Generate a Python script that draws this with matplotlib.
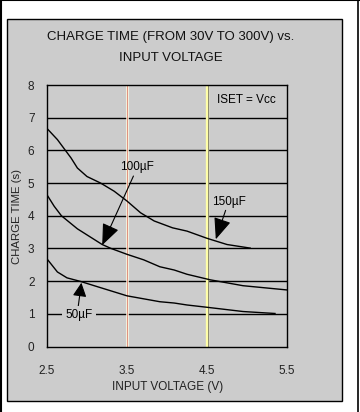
import matplotlib
matplotlib.use("Agg")
import matplotlib.pyplot as plt
from matplotlib.patches import Rectangle
from matplotlib.lines import Line2D

plt.rcParams["font.family"] = ["Liberation Sans", "DejaVu Sans"]

# Data
v_150 = [2.50, 2.63, 2.73, 2.80, 2.88, 3.00, 3.17, 3.34, 3.50, 3.67, 3.84,
         4.07, 4.25, 4.50, 4.75, 5.04]
t_150 = [6.67, 6.33, 6.00, 5.77, 5.46, 5.20, 5.00, 4.75, 4.45, 4.09, 3.84,
         3.63, 3.53, 3.31, 3.12, 3.01]

v_100 = [2.50, 2.59, 2.68, 2.88, 3.19, 3.30, 3.50, 3.71, 3.91, 4.09, 4.25,
         4.54, 4.95, 5.50]
t_100 = [4.64, 4.29, 4.00, 3.60, 3.12, 3.00, 2.82, 2.65, 2.44, 2.34, 2.21,
         2.04, 1.86, 1.73]

v_50 = [2.50, 2.63, 2.75, 2.92, 3.09, 3.50, 3.91, 4.09, 4.25, 4.50, 4.95, 5.35]
t_50 = [2.68, 2.28, 2.10, 1.99, 1.86, 1.55, 1.37, 1.33, 1.27, 1.20, 1.07, 1.01]

x_ticks = [2.5, 3.5, 4.5, 5.5]
y_ticks = [0, 1, 2, 3, 4, 5, 6, 7, 8]

GRAY = "#cccccc"

fig = plt.figure(figsize=(3.6, 4.12), dpi=100)
fig.patch.set_facecolor("white")

# outer frame and gray panel (behind the axes)
fig.add_artist(Line2D([0.002, 0.002], [0, 1], color="black", lw=1.5,
                      transform=fig.transFigure, zorder=-5))
fig.add_artist(Line2D([0.995, 0.995], [0, 1], color="black", lw=1.2,
                      transform=fig.transFigure, zorder=-5))
fig.add_artist(Line2D([0, 1], [0.999, 0.999], color="black", lw=1.5,
                      transform=fig.transFigure, zorder=-5))
fig.add_artist(Rectangle((7 / 360, 1 - 401 / 412), 335 / 360, 382 / 412,
                         transform=fig.transFigure, facecolor=GRAY,
                         edgecolor="black", lw=1.0, zorder=-5))

ax = fig.add_axes([47 / 360, 1 - 346.5 / 412, 240 / 360, 261.5 / 412])
ax.set_zorder(2)
ax.set_facecolor(GRAY)
ax.set_xlim(2.5, 5.5)
ax.set_ylim(0, 8)

for y in y_ticks[1:-1]:
    ax.axhline(y, color="black", lw=1.0, zorder=1)

# coloured vertical markers
ax.axvline(3.5, color="#fffbe2", lw=1.8, zorder=1)
ax.axvline(3.506, color="#e0907e", lw=0.7, zorder=1)
ax.axvline(4.5, color="#ffffa8", lw=2.4, zorder=1)
ax.axvline(4.508, color="#8c8a70", lw=0.7, zorder=1)

ax.plot(v_150, t_150, color="black", lw=1.0, zorder=3)
ax.plot(v_100, t_100, color="black", lw=1.0, zorder=3)
ax.plot(v_50, t_50, color="black", lw=1.0, zorder=3)

for s in ax.spines.values():
    s.set_color("black")
    s.set_linewidth(1.0)

ax.set_xticks(x_ticks)
ax.set_xticklabels(["2.5", "3.5", "4.5", "5.5"])
ax.set_yticks(y_ticks)
ax.tick_params(length=0, labelsize=8.5, colors="#222222")
ax.tick_params(axis="y", pad=9)
ax.tick_params(axis="x", pad=13)

arrow = dict(arrowstyle="-|>,head_length=1.1,head_width=0.45", color="black",
             lw=0.8, mutation_scale=12, shrinkA=0, shrinkB=0)
arrow_small = dict(arrow, arrowstyle="-|>,head_length=0.7,head_width=0.35")
ax.annotate("100µF", xy=(3.19, 3.10), xytext=(3.63, 5.30), fontsize=8.5,
            ha="center", va="bottom", arrowprops=arrow, zorder=4)
ax.annotate("150µF", xy=(4.61, 3.28), xytext=(4.77, 4.25), fontsize=8.5,
            ha="center", va="bottom", arrowprops=arrow, zorder=4)
ax.annotate("", xy=(2.93, 1.95), xytext=(2.89, 1.22), arrowprops=arrow_small, zorder=4)
ax.text(2.90, 0.95, "50µF", fontsize=8.5, ha="center", va="center", zorder=4,
        bbox=dict(boxstyle="square,pad=0.25", facecolor=GRAY, edgecolor="none"))
ax.text(4.62, 7.55, "ISET = Vcc", fontsize=8.5, ha="left", va="center")

fig.text(171 / 360, 1 - 37 / 412, "CHARGE TIME (FROM 30V TO 300V) vs.",
         ha="center", va="center", fontsize=9.5, color="#111111")
fig.text(171 / 360, 1 - 58 / 412, "INPUT VOLTAGE",
         ha="center", va="center", fontsize=9.5, color="#111111")
fig.text(168 / 360, 1 - 387 / 412, "INPUT VOLTAGE (V)",
         ha="center", va="center", fontsize=8.5, color="#222222")
fig.text(17 / 360, 1 - 216 / 412, "CHARGE TIME (s)", rotation=90,
         ha="center", va="center", fontsize=8.2, color="#222222")

fig.savefig("out.png", dpi=100)
